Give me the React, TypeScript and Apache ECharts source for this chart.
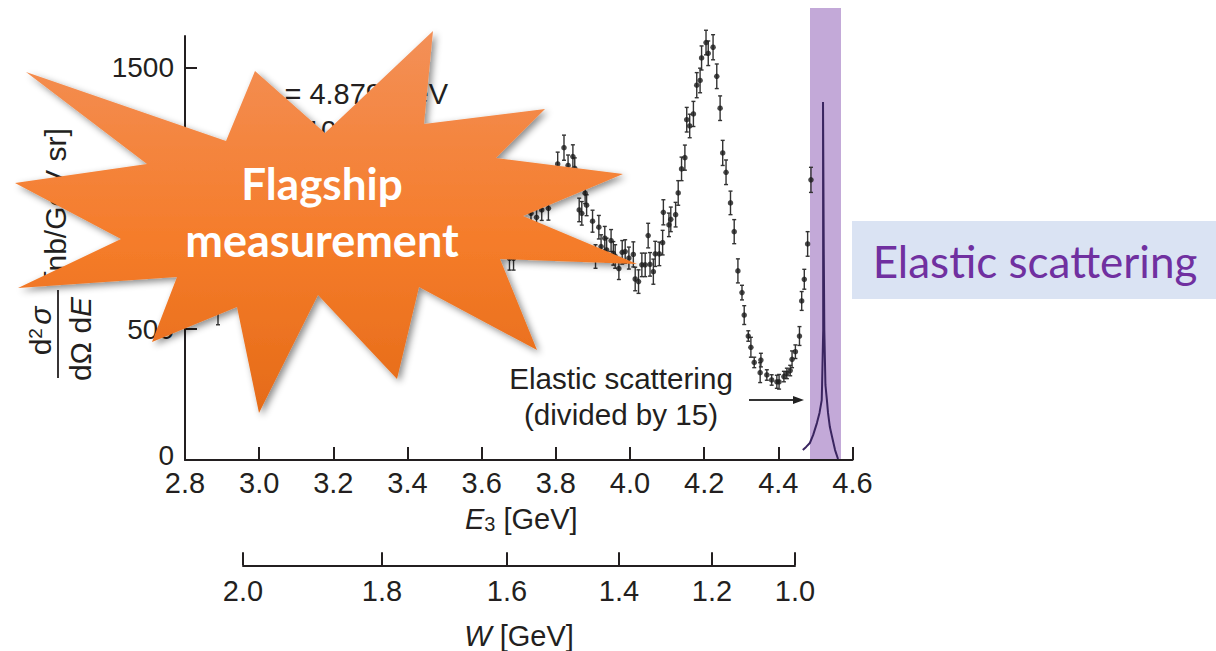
import React, { useEffect, useRef } from "react";
import * as echarts from "echarts";

const energies = [2.889,3.675,3.686,3.733,3.748,3.762,3.780,3.805,3.822,3.833,3.846,3.851,3.863,3.870,3.879,3.883,3.899,3.907,3.916,3.922,3.932,3.937,3.949,3.955,3.960,3.970,3.979,3.987,3.997,4.009,4.014,4.023,4.032,4.041,4.049,4.054,4.063,4.068,4.079,4.088,4.090,4.105,4.110,4.123,4.130,4.139,4.148,4.153,4.161,4.171,4.180,4.189,4.193,4.205,4.211,4.224,4.234,4.243,4.250,4.259,4.271,4.281,4.291,4.302,4.308,4.319,4.326,4.335,4.351,4.353,4.369,4.382,4.396,4.402,4.415,4.423,4.432,4.437,4.446,4.457,4.463,4.470,4.479,4.488];
const crossSection = [574,771,771,943,928,956,962,1132,1194,1126,1160,1115,956,943,1020,974,913,778,890,816,848,803,839,790,778,732,794,797,772,786,692,682,746,746,858,748,720,788,788,831,947,899,920,938,1021,1113,1156,1301,1277,1323,1433,1451,1537,1596,1555,1578,1467,1345,1174,1100,983,873,723,640,554,474,431,373,334,382,325,306,299,299,319,331,342,385,414,474,608,691,826,1071];
const errors = [57,45,45,40,40,40,45,45,48,40,45,40,45,45,40,40,42,45,45,45,45,45,42,45,45,42,45,45,42,48,45,45,45,45,47,45,48,48,45,47,48,45,47,47,47,45,48,47,45,48,48,47,46,47,47,48,47,47,48,47,45,46,46,28,36,20,38,20,38,26,20,20,25,28,20,20,20,32,26,36,36,38,47,48];

const elasticE = [4.466,4.475,4.485,4.494,4.504,4.511,4.517,4.518,4.521,4.5205,4.5225,4.524,4.527,4.531,4.534,4.539,4.545,4.553,4.561];
const elasticV = [38,50,65,96,141,180,229,287,497,1369,803,497,287,229,180,126,88,38,4];

const e3Ticks = [2.8,3.0,3.2,3.4,3.6,3.8,4.0,4.2,4.4,4.6];
const yTicks = [0,500,1000,1500];
const wLabels = ["2.0","1.8","1.6","1.4","1.2","1.0"];
const wAtE3 = [2.956,3.331,3.668,3.970,4.221,4.445];

const burst = [[433,31],[424,124],[545,109],[496,158],[623,174],[523,216],[637,264],[500,259],[537,350],[419,287],[397,379],[318,295],[259,413],[237,307],[152,342],[177,277],[18,288],[121,239],[15,183],[147,164],[26,72],[226,141],[255,71],[325,133]];

const SANS = '"Liberation Sans", Arial, sans-serif';
const INK = "#231f20";

export default function App() {
  const ref = useRef<HTMLDivElement>(null);
  useEffect(() => {
    const chart = echarts.init(ref.current!, null, { renderer: "svg" });
    const points = energies.map((e, i) => [e, crossSection[i], errors[i]]);
    const bare = { color: INK, fontFamily: SANS, fontSize: 29 };
    chart.setOption({
      animation: false,
      grid: [
        { left: 185, top: 36, width: 667.5, height: 424 },
        { left: 243, top: 565, width: 552, height: 1 },
      ],
      xAxis: [
        {
          gridIndex: 0, type: "value", min: 2.8, max: 4.6, interval: 0.2,
          splitLine: { show: false },
          axisLine: { onZero: false, lineStyle: { color: INK, width: 2 } },
          axisTick: { inside: true, length: 13, lineStyle: { color: INK, width: 2 } },
          axisLabel: { ...bare, margin: 11, lineHeight: 24, formatter: (v: number) => v.toFixed(1), customValues: e3Ticks },
          name: "{i|E}{s|3} [GeV]",
          nameLocation: "middle",
          nameGap: 44,
          nameTextStyle: {
            ...bare,
            padding: [0, 0, 0, 5],
            rich: {
              i: { ...bare, fontStyle: "italic" },
              s: { ...bare, fontSize: 20, padding: [10, 0, 0, 0] },
            },
          },
        },
        {
          gridIndex: 1, type: "value", min: wAtE3[0], max: wAtE3[5],
          splitLine: { show: false },
          axisLine: { onZero: false, lineStyle: { color: INK, width: 2 } },
          axisTick: { inside: true, length: 13, customValues: wAtE3, lineStyle: { color: INK, width: 2 } },
          axisLabel: {
            ...bare, margin: 11, customValues: wAtE3,
            showMinLabel: true, showMaxLabel: true,
            formatter: (v: number) => wLabels[wAtE3.indexOf(v)],
          },
          name: "{i|W} [GeV]",
          nameLocation: "middle",
          nameGap: 56,
          nameTextStyle: { ...bare, rich: { i: { ...bare, fontStyle: "italic" } } },
        },
      ],
      yAxis: [
        {
          gridIndex: 0, type: "value", min: 0, max: 1621,
          splitLine: { show: false },
          axisLine: { onZero: false, lineStyle: { color: INK, width: 2 } },
          axisTick: { inside: true, length: 12, customValues: yTicks, lineStyle: { color: INK, width: 2 } },
          axisLabel: { ...bare, fontSize: 28, lineHeight: 10, margin: 11, customValues: yTicks, verticalAlignMinLabel: "bottom", formatter: (v: number) => String(v) },
        },
        { gridIndex: 1, type: "value", min: 0, max: 1, show: false },
      ],
      series: [
        {
          type: "custom", xAxisIndex: 0, yAxisIndex: 0, data: points, z: 3, silent: true,
          renderItem: (_: any, api: any) => {
            const e = api.value(0), v = api.value(1), d = api.value(2);
            const top = api.coord([e, v + d]);
            const bot = api.coord([e, v - d]);
            const style = { stroke: "#333", lineWidth: 1.4, fill: "none" };
            return {
              type: "group",
              children: [
                { type: "line", shape: { x1: top[0], y1: top[1], x2: bot[0], y2: bot[1] }, style },
                { type: "line", shape: { x1: top[0] - 2, y1: top[1], x2: top[0] + 2, y2: top[1] }, style },
                { type: "line", shape: { x1: bot[0] - 2, y1: bot[1], x2: bot[0] + 2, y2: bot[1] }, style },
              ],
            };
          },
        },
        {
          type: "scatter", xAxisIndex: 0, yAxisIndex: 0, z: 4, silent: true,
          symbolSize: 5.5, itemStyle: { color: "#1c1c1c" },
          data: points.map((p) => [p[0], p[1]]),
        },
        {
          type: "line", xAxisIndex: 0, yAxisIndex: 0, z: 4, silent: true,
          showSymbol: false, smooth: false,
          lineStyle: { color: "#3A2560", width: 2 },
          data: elasticE.map((e, i) => [e, elasticV[i]]),
        },
      ],
      graphic: [
        { type: "rect", z: 1, shape: { x: 810, y: 8, width: 31, height: 451 }, style: { fill: "#C3A9D8" } },
        { type: "text", z: 5, x: 247, y: 94, style: { text: "{i|E}{s|1} = 4.879 GeV", verticalAlign: "middle", rich: { i: { fontStyle: "italic", fontSize: 29, fontFamily: SANS, fill: INK }, s: { fontSize: 18, fontFamily: SANS, fill: INK, padding: [8, 0, 0, 0] } }, fill: INK, font: `29px ${SANS}` } },
        { type: "text", z: 5, x: 258, y: 130, style: { text: "θ = 10°", fill: INK, font: `28px ${SANS}`, verticalAlign: "middle" } },
        { type: "text", z: 5, x: 55, y: 204, rotation: Math.PI / 2, style: { text: "[nb/GeV sr]", fill: INK, font: `30px ${SANS}`, align: "center", verticalAlign: "middle" } },
        { type: "text", z: 5, x: 40, y: 331, rotation: Math.PI / 2, style: { text: "{a|d}{b|2} {c|σ}", align: "center", verticalAlign: "middle", rich: { a: { fontSize: 30, fontFamily: SANS, fill: INK }, b: { fontSize: 19, fontFamily: SANS, fill: INK, padding: [0, 0, 10, 0] }, c: { fontSize: 30, fontFamily: SANS, fontStyle: "italic", fill: INK } } } },
        { type: "line", z: 5, shape: { x1: 58, y1: 290, x2: 58, y2: 378 }, style: { stroke: INK, lineWidth: 1.8 } },
        { type: "text", z: 5, x: 80, y: 339, rotation: Math.PI / 2, style: { text: "{a|dΩ d}{c|E}", align: "center", verticalAlign: "middle", rich: { a: { fontSize: 30, fontFamily: SANS, fill: INK }, c: { fontSize: 30, fontFamily: SANS, fontStyle: "italic", fill: INK } } } },
        { type: "text", z: 5, x: 621, y: 378, style: { text: "Elastic scattering", fill: INK, font: `29.6px ${SANS}`, align: "center", verticalAlign: "middle" } },
        { type: "text", z: 5, x: 621, y: 414, style: { text: "(divided by 15)", fill: INK, font: `29.6px ${SANS}`, align: "center", verticalAlign: "middle" } },
        { type: "line", z: 5, shape: { x1: 749, y1: 400, x2: 795, y2: 400 }, style: { stroke: "#333", lineWidth: 1.8 } },
        { type: "polygon", z: 5, shape: { points: [[793, 396], [804, 400], [793, 404]] }, style: { fill: "#222" } },
        { type: "rect", z: 8, shape: { x: 852, y: 221, width: 364, height: 78 }, style: { fill: "#DAE3F3" } },
        { type: "text", z: 9, x: 1035, y: 261, style: { text: "Elastic scattering", fill: "#7030A0", font: `44px Lato, "Open Sans", sans-serif`, align: "center", verticalAlign: "middle" } },
        {
          type: "polygon", z: 10, shape: { points: burst },
          style: {
            fill: new echarts.graphic.LinearGradient(0, 0, 0, 1, [
              { offset: 0, color: "#F39058" },
              { offset: 0.55, color: "#F57C2A" },
              { offset: 1, color: "#E56B18" },
            ]),
            shadowBlur: 7, shadowOffsetX: 3, shadowOffsetY: 3, shadowColor: "rgba(0,0,0,0.45)",
          },
        },
        { type: "text", z: 11, x: 322, y: 183, style: { text: "Flagship", fill: "#fff", font: `bold 44px Lato, "Open Sans", sans-serif`, align: "center", verticalAlign: "middle" } },
        { type: "text", z: 11, x: 322, y: 240, style: { text: "measurement", fill: "#fff", font: `bold 45px Lato, "Open Sans", sans-serif`, align: "center", verticalAlign: "middle" } },
      ],
    });
    return () => chart.dispose();
  }, []);
  return <div ref={ref} style={{ position: "fixed", left: 0, top: 0, width: 1216, height: 651, background: "#fff" }} />;
}
